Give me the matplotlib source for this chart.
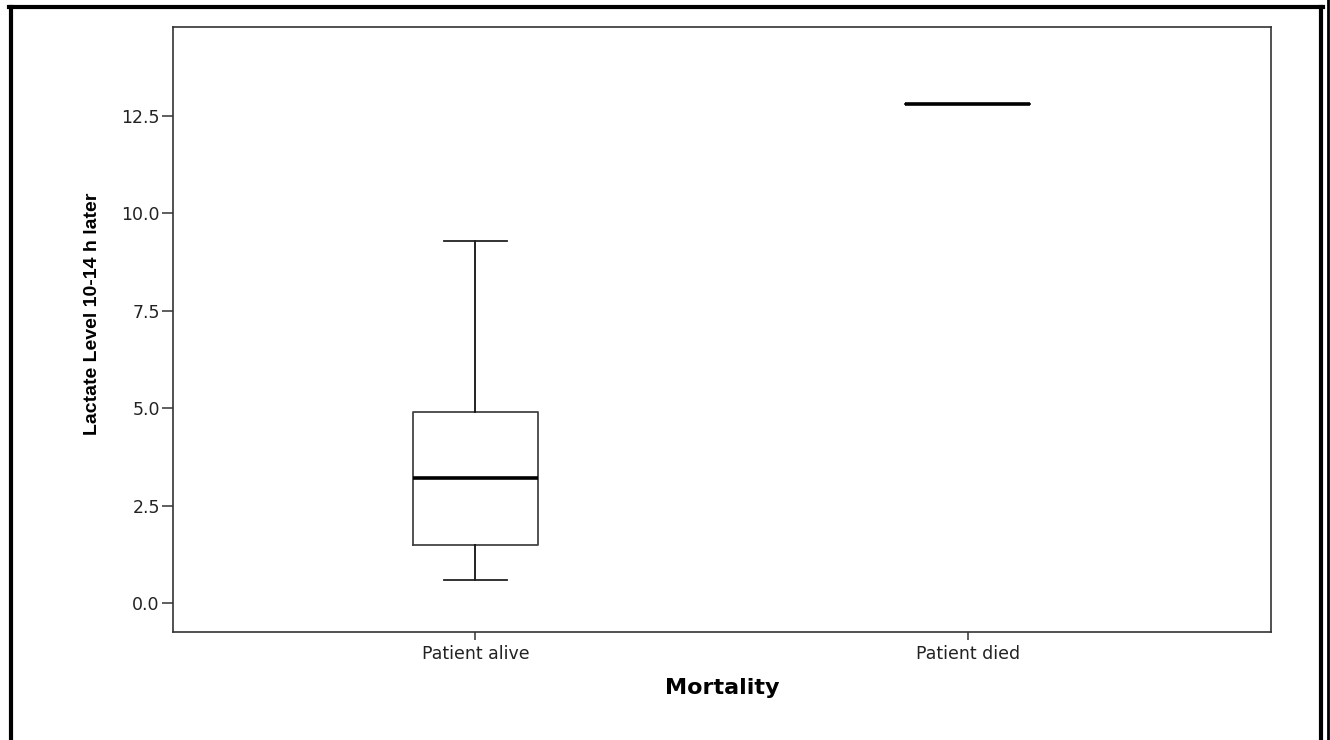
import matplotlib
matplotlib.use("Agg")
import matplotlib.pyplot as plt
from matplotlib.lines import Line2D

# box summary
groups = ["Patient alive", "Patient died"]
whislo = [0.6, 12.8]
q1 = [1.5, 12.8]
med = [3.2, 12.8]
q3 = [4.9, 12.8]
whishi = [9.3, 12.8]

yticks = [0.0, 2.5, 5.0, 7.5, 10.0, 12.5]


def main():
    plt.rcParams["font.family"] = ["DejaVu Sans"]

    fig = plt.figure(figsize=(13.3, 7.4), dpi=100)
    ax = fig.add_axes([0.1301, 0.1459, 0.8256, 0.8176])

    stats = []
    for i in range(len(groups)):
        stats.append({"label": groups[i], "whislo": whislo[i], "q1": q1[i],
                      "med": med[i], "q3": q3[i], "whishi": whishi[i],
                      "fliers": []})

    ax.bxp(stats, positions=[0, 1], widths=0.254, capwidths=0.128,
           showfliers=False,
           boxprops=dict(color="#444444", linewidth=1.3),
           whiskerprops=dict(color="#111111", linewidth=1.3),
           capprops=dict(color="#222222", linewidth=1.3),
           medianprops=dict(color="black", linewidth=2.6))

    ax.set_xlim(-0.614, 1.616)
    ax.set_ylim(-0.744, 14.78)
    ax.set_yticks(yticks)
    ax.set_yticklabels(["%.1f" % v for v in yticks])
    ax.set_xticks([0, 1])
    ax.set_xticklabels(groups)

    for s in ax.spines.values():
        s.set_color("#333333")
        s.set_linewidth(1.2)
    ax.tick_params(axis="both", direction="out", width=1.1,
                   color="#333333", labelcolor="#222222", labelsize=12.5)
    ax.tick_params(axis="y", length=8, pad=1.5)
    ax.tick_params(axis="x", length=6, pad=3)

    ax.set_xlabel("Mortality", fontsize=16, fontweight="bold",
                  labelpad=11)
    ax.set_ylabel("Lactate Level 10-14 h later", fontsize=14,
                  fontweight="bold",
                  family=["Liberation Sans Narrow", "Liberation Sans", "DejaVu Sans"])
    ax.yaxis.set_label_coords(-0.066, 0.526)

    # outer frame (open at the bottom)
    fig.add_artist(Line2D([11 / 1330, 11 / 1330], [0, 1 - 7 / 740],
                          transform=fig.transFigure, color="black", lw=3))
    fig.add_artist(Line2D([9 / 1330, 1323 / 1330], [1 - 7 / 740, 1 - 7 / 740],
                          transform=fig.transFigure, color="black", lw=3))
    fig.add_artist(Line2D([1321 / 1330, 1321 / 1330], [0, 1 - 7 / 740],
                          transform=fig.transFigure, color="black", lw=3))
    fig.add_artist(Line2D([1328 / 1330, 1328 / 1330], [0, 1],
                          transform=fig.transFigure, color="black", lw=2))

    fig.savefig("out.png", dpi=100)


if __name__ == "__main__":
    main()
